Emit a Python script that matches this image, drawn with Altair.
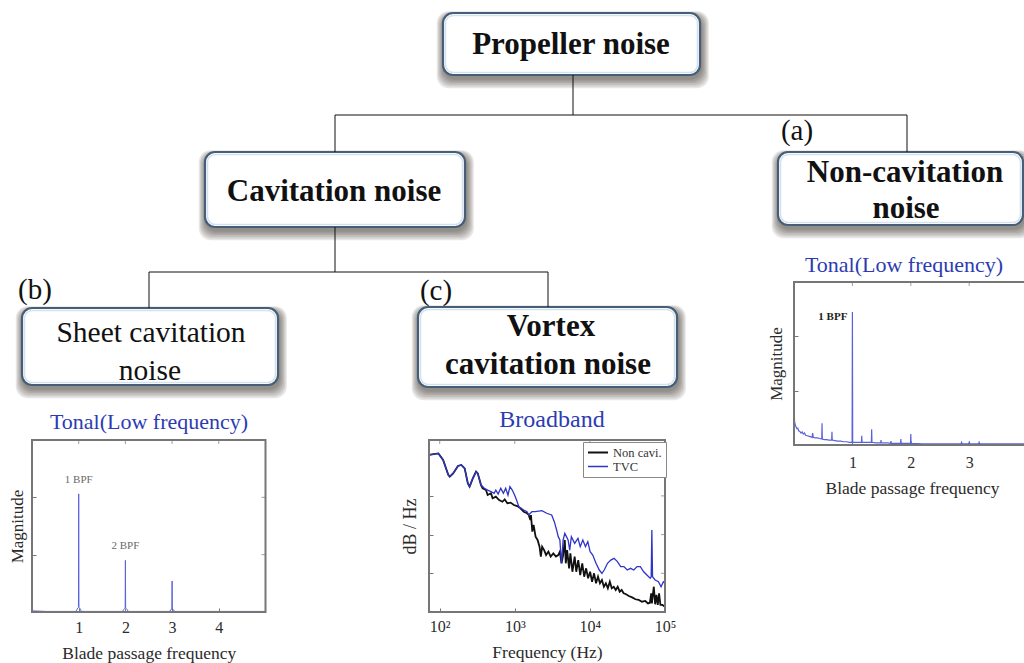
import altair as alt
import pandas as pd

W, H = 1024, 663
SERIF = "Liberation Serif"
INK = "#2b2b2b"
FRAME = "#767676"
TITLE_BLUE = "#2d3bb3"
SPECTRUM_BLUE = "#5a61dc"
TICK = 4

# ---------------------------------------------------------------------------
# (b) sheet cavitation noise: tonal spectrum over blade passage frequency
sheet_bpf = [0.0, 0.3, 0.6, 0.94, 0.96, 0.98, 0.995, 1.0, 1.005, 1.02, 1.04, 1.06,
             1.5, 1.94, 1.96, 1.98, 1.995, 2.0, 2.005, 2.02, 2.04, 2.06,
             2.5, 2.95, 2.97, 2.995, 3.0, 3.005, 3.03, 3.05, 3.5, 4.0, 4.5, 5.0]
sheet_mag = [0.02, 0.01, 0.01, 0.01, 0.04, 0.07, 0.08, 2.06, 0.08, 0.07, 0.04, 0.01,
             0.01, 0.01, 0.04, 0.06, 0.07, 0.90, 0.07, 0.06, 0.04, 0.01,
             0.01, 0.01, 0.04, 0.05, 0.54, 0.05, 0.04, 0.01, 0.01, 0.01, 0.01, 0.01]
sheet_peak_bpf = [1.0, 2.0]
sheet_peak_text = ["1 BPF", "2 BPF"]

# (a) non-cavitation noise: tonal spectrum over blade passage frequency
noncav_bpf = [0.0, 0.005, 0.01, 0.02, 0.035, 0.05, 0.065, 0.08, 0.1, 0.12,
              0.14, 0.16, 0.18, 0.2, 0.23, 0.26, 0.29, 0.31, 0.32, 0.33,
              0.36, 0.4, 0.44, 0.475, 0.48, 0.485, 0.52, 0.56, 0.6, 0.645,
              0.65, 0.655, 0.7, 0.75, 0.8, 0.85, 0.9, 0.95, 0.995, 1.0,
              1.005, 1.05, 1.1, 1.155, 1.16, 1.165, 1.25, 1.325, 1.33, 1.335,
              1.4, 1.485, 1.49, 1.495, 1.6, 1.655, 1.66, 1.665, 1.75, 1.825,
              1.83, 1.835, 1.9, 1.995, 2.0, 2.005, 2.2, 2.5, 2.86, 2.87,
              2.88, 2.99, 3.0, 3.01, 3.16, 3.17, 3.18, 3.5, 4.0, 4.5, 5.0]
noncav_mag = [0.83, 0.55, 0.43, 0.38, 0.33, 0.30, 0.31, 0.26, 0.25, 0.22,
              0.24, 0.20, 0.22, 0.18, 0.17, 0.16, 0.15, 0.14, 0.22, 0.14,
              0.13, 0.13, 0.12, 0.11, 0.40, 0.11, 0.10, 0.10, 0.09, 0.09,
              0.245, 0.09, 0.08, 0.07, 0.07, 0.06, 0.06, 0.05, 0.05, 2.45,
              0.05, 0.05, 0.05, 0.05, 0.17, 0.05, 0.05, 0.05, 0.29, 0.05,
              0.04, 0.04, 0.09, 0.04, 0.04, 0.03, 0.07, 0.03, 0.03, 0.03,
              0.11, 0.03, 0.03, 0.03, 0.20, 0.03, 0.02, 0.02, 0.02, 0.05,
              0.02, 0.02, 0.05, 0.02, 0.02, 0.05, 0.02, 0.02, 0.02, 0.02, 0.02]
noncav_peak_bpf = [1.0]
noncav_peak_text = ["1 BPF"]

bpf_ticks = [1, 2, 3, 4]
noncav_bpf_ticks = [1, 2, 3]
magnitude_ticks = [1, 2]

# (c) vortex cavitation noise: broadband spectra
series_names = ["Non cavi.", "TVC"]
series_colors = ["#111111", "#2f35c8"]
series_widths = [1.8, 1.3]

noncavi_freq = [72, 96, 111, 130, 136, 151, 175, 194, 215, 237,
                250, 276, 305, 321, 355, 373, 413, 435, 481, 506,
                559, 618, 684, 733, 795, 879, 972, 1075, 1190, 1315,
                1455, 1530, 1609, 1641, 1710, 1779, 1891, 2010, 2135, 2222,
                2312, 2457, 2612, 2800, 3005, 3258, 3532, 3786, 3982, 4187,
                4403, 4631, 4773, 4974, 5284, 5495, 5848, 6266, 6584, 6998,
                7430, 7907, 8391, 8903, 9462, 10070, 10690, 11360, 12060, 12820,
                13610, 14460, 15360, 16320, 17340, 18420, 19550, 20780, 22080, 23440,
                24910, 26480, 28130, 29850, 33010, 36530, 40400, 44650, 49370, 54700,
                59290, 62950, 65490, 66830, 70970, 73890, 76920, 80130, 83400, 86890,
                92250, 100000]
noncavi_level = [91.3, 92.2, 88.4, 79.7, 78.7, 80.6, 84.9, 85.5, 83.5, 74.8,
                 72.9, 77.7, 81.6, 80.6, 73.8, 71.9, 70.9, 68.0, 69.0, 66.1,
                 67.1, 65.1, 64.1, 65.5, 63.2, 63.6, 62.2, 61.6, 60.3, 58.3,
                 57.4, 56.4, 53.5, 56.4, 46.7, 50.6, 43.8, 41.9, 38.0, 32.2,
                 38.0, 36.0, 33.1, 35.1, 32.2, 34.1, 32.2, 33.1, 35.1, 28.3,
                 33.1, 41.9, 28.3, 36.0, 25.4, 34.1, 23.4, 32.2, 23.4, 30.2,
                 21.5, 28.3, 20.5, 25.4, 19.6, 23.4, 17.6, 22.5, 16.7, 20.5,
                 16.7, 18.6, 14.7, 16.7, 13.8, 17.6, 13.8, 14.7, 12.8, 14.7,
                 11.8, 12.8, 10.9, 10.5, 9.3, 8.5, 7.4, 7.0, 6.0, 6.4,
                 5.0, 5.4, 10.9, 5.0, 14.7, 4.5, 9.9, 4.1, 10.9, 4.1,
                 4.1, 3.1]

tvc_freq = [72, 96, 111, 130, 136, 151, 175, 194, 215, 237,
            250, 276, 305, 321, 355, 393, 435, 481, 531, 559,
            600, 650, 705, 756, 811, 861, 925, 993, 1055, 1132,
            1315, 1455, 1530, 1692, 1871, 2291, 2662, 3096, 3357, 3603,
            3786, 3982, 4187, 4403, 4631, 4869, 5124, 5384, 5662, 6266,
            6935, 7430, 8051, 8726, 9376, 10070, 10910, 12060, 13340, 14460,
            15520, 17160, 18980, 20990, 23230, 25700, 28400, 31410, 34730, 38390,
            42480, 46960, 51990, 57410, 63530, 65490, 66830, 68220, 73890, 81780,
            88670, 95050, 100000]
tvc_level = [91.3, 92.2, 88.4, 79.7, 78.7, 80.6, 84.9, 85.5, 83.5, 74.8,
             72.9, 77.7, 81.6, 80.6, 73.8, 71.9, 70.9, 70.0, 69.0, 70.9,
             68.6, 71.9, 69.0, 71.9, 68.0, 72.9, 70.9, 68.0, 65.1, 61.2,
             59.3, 58.3, 56.4, 58.3, 58.3, 58.9, 57.4, 56.4, 52.5, 47.7,
             43.8, 41.9, 28.3, 41.9, 45.7, 43.8, 41.9, 36.0, 43.8, 39.9,
             42.8, 38.0, 41.9, 38.0, 40.9, 35.1, 33.1, 28.3, 24.4, 22.5,
             24.4, 28.3, 30.2, 31.2, 29.3, 26.4, 26.4, 24.4, 25.4, 24.4,
             26.4, 26.4, 23.4, 21.5, 19.6, 20.5, 47.7, 20.5, 18.6, 17.6,
             14.7, 17.6, 16.7]

freq_ticks = [100, 1000, 10000, 100000]
freq_tick_labels = ["10²", "10³", "10⁴", "10⁵"]
level_ticks = [22.5, 45, 67.5]

# ---------------------------------------------------------------------------
# tree diagram layout (pixel coordinates on the page)
boxes = pd.DataFrame({
    "x0": [443, 205, 778, 22, 418],
    "y0": [13, 152, 152, 308, 307],
    "x1": [700, 465, 1023, 278, 677],
    "y1": [75, 227, 225, 385, 387],
})
links = pd.DataFrame({
    "x0": [573, 335, 335, 907, 335, 149, 149, 548],
    "y0": [75, 115, 115, 115, 227, 272, 272, 272],
    "x1": [573, 907, 335, 907, 335, 548, 149, 548],
    "y1": [115, 115, 152, 152, 272, 272, 308, 307],
})
bold_labels = pd.DataFrame({
    "text": ["Propeller noise", "Cavitation noise", "Non-cavitation", "noise",
             "Vortex", "cavitation noise"],
    "x": [571, 334, 905, 906, 551, 548],
    "y": [54, 201, 182, 218, 336, 374],
})
plain_labels = pd.DataFrame({
    "text": ["Sheet cavitation", "noise"],
    "x": [151, 150],
    "y": [342, 380],
})
panel_tags = pd.DataFrame({
    "text": ["(a)", "(b)", "(c)"],
    "x": [797, 35, 436],
    "y": [140, 299, 300],
})
panel_titles = pd.DataFrame({
    "text": ["Tonal(Low frequency)", "Broadband", "Tonal(Low frequency)"],
    "x": [149, 552, 904],
    "y": [429, 427, 272],
    "size": [22, 24, 22],
})

# soft drop shadow: stacked translucent rounded rectangles, heavier below
shadow = pd.concat([
    pd.DataFrame({"x0": boxes.x0 - 1.2 * k + 1, "x1": boxes.x1 + 1.3 * k + 1,
                  "y0": boxes.y0 - 0.8 * k + 3, "y1": boxes.y1 + 1.7 * k + 3})
    for k in range(1, 7)
])
glow = pd.DataFrame({"x0": boxes.x0 + 2.5, "x1": boxes.x1 - 2.5,
                     "y0": boxes.y0 + 2.5, "y1": boxes.y1 - 2.5})

PX = alt.Scale(domain=[0, W], range=[0, W], nice=False, zero=False)
PY = alt.Scale(domain=[0, H], range=[0, H], nice=False, zero=False)


def span_enc():
    return dict(x=alt.X("x0:Q", scale=PX, axis=None), x2="x1:Q",
                y=alt.Y("y0:Q", scale=PY, axis=None), y2="y1:Q")


def text_layer(df, **mark):
    enc = dict(x=alt.X("x:Q", scale=PX, axis=None),
               y=alt.Y("y:Q", scale=PY, axis=None), text="text:N")
    if "size" in df.columns:
        enc["size"] = alt.Size("size:Q", scale=None, legend=None)
    return alt.Chart(df).mark_text(font=SERIF, baseline="alphabetic", **mark).encode(**enc)


diagram = alt.layer(
    alt.Chart(shadow).mark_rect(color="#3a332b", opacity=0.12, cornerRadius=12).encode(**span_enc()),
    alt.Chart(boxes).mark_rect(fill="white", stroke="#465e78", strokeWidth=2.2, cornerRadius=10).encode(**span_enc()),
    alt.Chart(glow).mark_rect(fillOpacity=0, stroke="#d3e2f1", strokeWidth=1.5, cornerRadius=8).encode(**span_enc()),
    alt.Chart(links).mark_rule(color="#111111", strokeWidth=1).encode(**span_enc()),
    text_layer(bold_labels, fontSize=31, fontWeight="bold", color="#111111"),
    text_layer(plain_labels, fontSize=29.5, color="#111111"),
    text_layer(panel_tags, fontSize=29, color="#111111"),
    text_layer(panel_titles, color=TITLE_BLUE),
)

# ---------------------------------------------------------------------------
# small spectrum panels; each has its own scales mapped onto its frame.
# Every layer of a panel carries the same axis definition so they merge.
ONE_ROW = alt.InlineData(values=[{}])


def bottom_axis(frame_bottom, values, title, label_pad, title_center, label_expr=None, title_x=None):
    kw = dict(orient="bottom", offset=(frame_bottom - TICK) - H, values=values,
              domain=False, grid=False, tickSize=TICK, tickColor=FRAME,
              labelFont=SERIF, labelFontSize=16, labelColor=INK, labelPadding=label_pad,
              labelFlush=False, labelOverlap=False,
              title=title, titleFont=SERIF, titleFontSize=17.5, titleFontWeight="normal",
              titleColor=INK, titleY=title_center - (frame_bottom - TICK), titleBaseline="middle")
    if label_expr:
        kw["labelExpr"] = label_expr
    if title_x is not None:
        kw["titleX"] = title_x
    return alt.Axis(**kw)


def left_axis(frame_left, values, title, title_center, size=17):
    return alt.Axis(orient="left", offset=-(frame_left + TICK), values=values,
                    domain=False, grid=False, labels=False, tickSize=TICK, tickColor=FRAME,
                    title=title, titleFont=SERIF, titleFontSize=size, titleFontWeight="normal",
                    titleColor=INK, titleX=title_center - (frame_left + TICK), titleBaseline="middle")


def frame(xs, ys, xa, ya, x0, x1, y0, y1):
    return alt.Chart(ONE_ROW).mark_rect(fillOpacity=0, stroke=FRAME, strokeWidth=2).encode(
        x=alt.XDatum(x0, type="quantitative", scale=xs, axis=xa), x2=alt.X2Datum(x1),
        y=alt.YDatum(y0, type="quantitative", scale=ys, axis=ya), y2=alt.Y2Datum(y1))


def top_ticks(xs, ys, xa, ya, values, top):
    return alt.Chart(pd.DataFrame({"t": values})).mark_tick(
        orient="vertical", size=TICK, thickness=1, color=FRAME, yOffset=TICK / 2).encode(
        x=alt.X("t:Q", scale=xs, axis=xa),
        y=alt.YDatum(top, type="quantitative", scale=ys, axis=ya))


def right_ticks(xs, ys, xa, ya, values, right):
    return alt.Chart(pd.DataFrame({"t": values})).mark_tick(
        orient="horizontal", size=TICK, thickness=1, color=FRAME, xOffset=-TICK / 2).encode(
        x=alt.XDatum(right, type="quantitative", scale=xs, axis=xa),
        y=alt.Y("t:Q", scale=ys, axis=ya))


def peak_table(bpf, mag, peaks, texts):
    lookup = dict(zip(bpf, mag))
    return pd.DataFrame({"bpf": peaks, "mag": [lookup[p] for p in peaks], "text": texts})


# (b) sheet cavitation
bx = alt.Scale(domain=[0, 5], range=[32, 265.5], nice=False, zero=False)
by = alt.Scale(domain=[0, 3], range=[612, 440], nice=False, zero=False)
bxa = bottom_axis(612, bpf_ticks, "Blade passage frequency", 7, 653)
bya = left_axis(32, magnitude_ticks, "Magnitude", 17.5)
sheet_df = pd.DataFrame({"bpf": sheet_bpf, "mag": sheet_mag})
plot_b = alt.layer(
    alt.Chart(sheet_df).mark_line(color=SPECTRUM_BLUE, strokeWidth=1).encode(
        x=alt.X("bpf:Q", scale=bx, axis=bxa), y=alt.Y("mag:Q", scale=by, axis=bya)),
    frame(bx, by, bxa, bya, 0, 5, 0, 3),
    top_ticks(bx, by, bxa, bya, bpf_ticks, 3),
    right_ticks(bx, by, bxa, bya, magnitude_ticks, 5),
    alt.Chart(peak_table(sheet_bpf, sheet_mag, sheet_peak_bpf, sheet_peak_text)).mark_text(
        font=SERIF, fontSize=11, color="#6a6a6a", baseline="alphabetic", dy=-11).encode(
        x=alt.X("bpf:Q", scale=bx, axis=bxa), y=alt.Y("mag:Q", scale=by, axis=bya), text="text:N"),
)

# (a) non-cavitation (the frame runs past the right edge of the page)
ax = alt.Scale(domain=[0, 5], range=[794, 1086], nice=False, zero=False)
ay = alt.Scale(domain=[0, 3], range=[445, 282], nice=False, zero=False)
axa = bottom_axis(445, noncav_bpf_ticks, "Blade passage frequency", 9, 488, title_x=912)
aya = left_axis(794, magnitude_ticks, "Magnitude", 776.5)
noncav_df = pd.DataFrame({"bpf": noncav_bpf, "mag": noncav_mag})
plot_a = alt.layer(
    alt.Chart(noncav_df).mark_line(color=SPECTRUM_BLUE, strokeWidth=1.2).encode(
        x=alt.X("bpf:Q", scale=ax, axis=axa), y=alt.Y("mag:Q", scale=ay, axis=aya)),
    frame(ax, ay, axa, aya, 0, 5, 0, 3),
    top_ticks(ax, ay, axa, aya, noncav_bpf_ticks, 3),
    alt.Chart(peak_table(noncav_bpf, noncav_mag, noncav_peak_bpf, noncav_peak_text)).mark_text(
        font=SERIF, fontSize=11, fontWeight="bold", color="#222222", align="right",
        baseline="alphabetic", dx=-5, dy=8).encode(
        x=alt.X("bpf:Q", scale=ax, axis=axa), y=alt.Y("mag:Q", scale=ay, axis=aya), text="text:N"),
)

# (c) vortex cavitation, broadband
cx = alt.Scale(type="log", domain=[72, 100000], range=[429, 665], nice=False)
cy = alt.Scale(domain=[0, 100], range=[612, 440], nice=False, zero=False)
freq_label_expr = " : ".join(
    f"round(datum.value) == {v} ? '{lab}'" for v, lab in zip(freq_ticks, freq_tick_labels)) + " : ''"
cxa = bottom_axis(612, freq_ticks, "Frequency (Hz)", 6, 652.5, freq_label_expr)
cya = left_axis(429, level_ticks, "dB / Hz", 410, size=18)
broadband = pd.concat([
    pd.DataFrame({"freq": noncavi_freq, "level": noncavi_level, "series": series_names[0]}),
    pd.DataFrame({"freq": tvc_freq, "level": tvc_level, "series": series_names[1]}),
])
plot_c = alt.layer(
    alt.Chart(broadband).mark_line().encode(
        x=alt.X("freq:Q", scale=cx, axis=cxa),
        y=alt.Y("level:Q", scale=cy, axis=cya),
        color=alt.Color("series:N", scale=alt.Scale(domain=series_names, range=series_colors),
                        legend=alt.Legend(orient="none", legendX=583, legendY=442, title=None,
                                          direction="vertical", strokeColor="#8a8a8a",
                                          fillColor="white", padding=4, symbolType="stroke",
                                          symbolSize=400, symbolStrokeWidth=1.5, clipHeight=13,
                                          rowPadding=1, labelOffset=4, labelFont=SERIF,
                                          labelFontSize=12.5, labelColor="#333333")),
        strokeWidth=alt.StrokeWidth("series:N", scale=alt.Scale(domain=series_names, range=series_widths),
                                    legend=None),
        order=alt.Order("freq:Q"),
    ),
    frame(cx, cy, cxa, cya, 72, 100000, 0, 100),
    top_ticks(cx, cy, cxa, cya, freq_ticks[:-1], 100),
    right_ticks(cx, cy, cxa, cya, level_ticks, 100000),
)

chart = alt.layer(diagram, plot_a, plot_b, plot_c).resolve_scale(
    x="independent", y="independent"
).properties(
    width=W, height=H, padding=0, background="white",
    autosize=alt.AutoSizeParams(type="none"),
).configure_view(stroke=None)

chart.save("out.html", embed_options={"renderer": "svg", "actions": False})
